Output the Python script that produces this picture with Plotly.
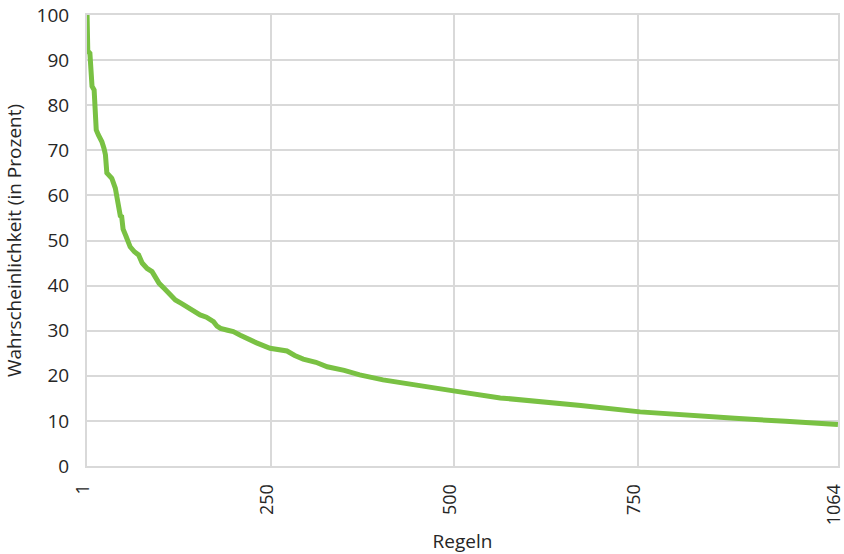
import plotly.graph_objects as go

# Rule index (Regeln) and probability in percent
regel = [1, 2, 5, 6, 8, 11, 12, 14, 17, 22, 25, 27, 29, 33, 36, 41, 45, 48, 50, 52,
         56, 62, 68, 74, 79, 81, 86, 93, 97, 103, 110, 118, 126, 135, 142, 152, 161,
         170, 180, 185, 190, 200, 208, 218, 227, 241, 260, 275, 284, 295, 307, 325,
         341, 365, 387, 420, 470, 515, 522, 586, 650, 700, 784, 850, 918, 990, 1064]
prozent = [100, 92, 91.5, 88, 84.2, 83.4, 79, 74.5, 73.4, 71.9, 70.4, 69, 65, 64.5,
           63.8, 61.6, 57.5, 55.5, 55.3, 52.5, 51, 48.6, 47.5, 46.8, 45, 44.6, 43.8,
           43.1, 42, 40.5, 39.4, 38, 36.8, 36, 35.3, 34.5, 33.5, 33, 32, 31, 30.5,
           30.1, 29.8, 29, 28.3, 27.3, 26.1, 25.8, 25.5, 24.5, 23.7, 23, 22.0, 21.2,
           20.2, 19.1, 17.8, 16.8, 16.6, 15.1, 14.2, 13.4, 12.0, 11.2, 10.6, 9.9, 9.2]

x_tickvals = [1, 261, 521, 781, 1064]
x_ticktext = ["1", "250", "500", "750", "1064"]
y_tickvals = [0, 10, 20, 30, 40, 50, 60, 70, 80, 90, 100]

grid = "#d9d9d9"
font = "Open Sans"

fig = go.Figure()
fig.add_trace(go.Scatter(
    x=regel, y=prozent, mode="lines",
    line=dict(color="#79c143", width=5),
    cliponaxis=False, hoverinfo="skip",
))

fig.update_layout(
    width=844, height=554,
    margin=dict(l=87, r=6, t=15, b=88),
    paper_bgcolor="white", plot_bgcolor="white",
    showlegend=False,
    font=dict(family=font, color="#262626", size=19),
)
fig.update_xaxes(
    range=[0.9, 1064.1], tickvals=x_tickvals, ticktext=x_ticktext,
    tickangle=-90, showgrid=True, gridcolor=grid, gridwidth=2,
    showline=True, mirror=True, linecolor=grid, linewidth=2, zeroline=False,
    ticks="", ticklabelstandoff=9, ticklabelshift=-4, automargin=False,
    ticklabeloverflow="allow",
    tickfont=dict(size=18),
    title=dict(text="Regeln", font=dict(size=19), standoff=22),
)
fig.update_yaxes(
    range=[0, 100], tickvals=y_tickvals,
    showgrid=True, gridcolor=grid, gridwidth=2,
    showline=True, mirror=True, linecolor=grid, linewidth=2, zeroline=False,
    ticks="", ticklabelstandoff=12, automargin=False, ticklabeloverflow="allow",
    tickfont=dict(size=19),
    title=dict(text="Wahrscheinlichkeit (in Prozent)", font=dict(size=19), standoff=10),
)

fig.write_html("out.html", config={"displayModeBar": False},
               post_script="document.body.style.margin='0';document.body.style.overflow='hidden';")
